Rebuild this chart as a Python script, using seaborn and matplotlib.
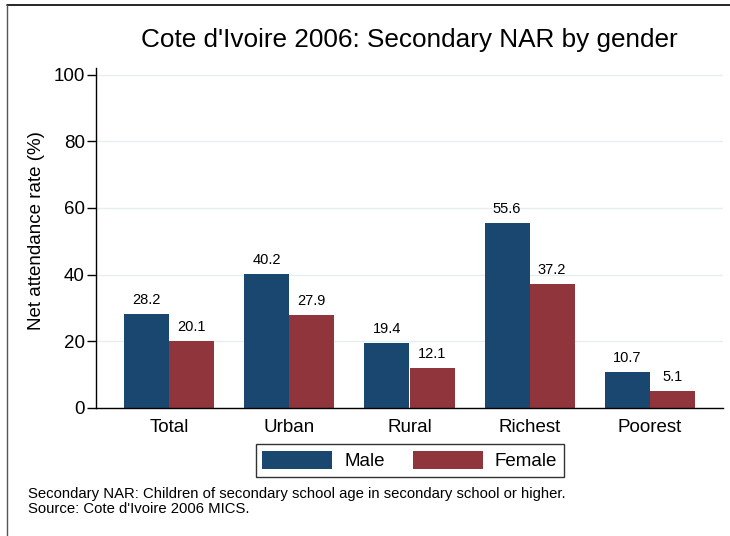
import matplotlib
matplotlib.use("Agg")
import matplotlib.pyplot as plt
from matplotlib.lines import Line2D
import seaborn as sns
import pandas as pd

categories = ["Total", "Urban", "Rural", "Richest", "Poorest"]
male = [28.2, 40.2, 19.4, 55.6, 10.7]
female = [20.1, 27.9, 12.1, 37.2, 5.1]
genders = ["Male", "Female"]
yticks = [0, 20, 40, 60, 80, 100]

df = pd.DataFrame({
    "category": categories * 2,
    "gender": ["Male"] * len(categories) + ["Female"] * len(categories),
    "value": male + female,
})

sns.set_theme(style="white")
plt.rcParams["font.family"] = ["Liberation Sans", "DejaVu Sans"]
plt.rcParams["text.color"] = "black"
plt.rcParams["axes.labelcolor"] = "black"
plt.rcParams["xtick.color"] = "black"
plt.rcParams["ytick.color"] = "black"

W, H = 730, 536
fig = plt.figure(figsize=(W / 100, H / 100), dpi=100)
fig.patch.set_facecolor("white")
ax = fig.add_axes([96 / W, 1 - 408 / H, (723 - 96) / W, (408 - 68) / H])

palette = {"Male": "#1a476f", "Female": "#90353b"}
sns.barplot(data=df, x="category", y="value", hue="gender", order=categories,
            hue_order=genders, palette=palette, width=0.75, saturation=1,
            ax=ax, legend=False, linewidth=0)

for cont in ax.containers:
    ax.bar_label(cont, fmt="%.1f", padding=5, fontsize=10.5, color="black")

ax.set_ylim(0, 102)
ax.set_xlim(-0.61, 4.61)
ax.set_yticks(yticks)
ax.set_yticklabels([str(t) for t in yticks])
ax.yaxis.grid(True, color="#e6eef0", linewidth=1.0)
ax.set_axisbelow(True)
for s in ["top", "right"]:
    ax.spines[s].set_visible(False)
for s in ["left", "bottom"]:
    ax.spines[s].set_color("black")
    ax.spines[s].set_linewidth(1.0)
ax.tick_params(axis="y", length=6.5, width=1, color="black", labelcolor="black",
               pad=1.5, labelsize=13.5, left=True)
ax.tick_params(axis="x", length=0, pad=8, labelsize=13.5, labelcolor="black")
ax.set_xlabel("")
ax.set_ylabel("Net attendance rate (%)", fontsize=13.5, color="black")
ax.yaxis.set_label_coords((45.5 - 96) / (723 - 96), (408 - 231) / 340)
ax.set_facecolor("white")

fig.text(409.5 / W, 1 - 40 / H, "Cote d'Ivoire 2006: Secondary NAR by gender",
         ha="center", va="center", fontsize=18.8, color="black")

handles = [plt.Rectangle((0, 0), 1, 1, facecolor=palette[g], edgecolor="none") for g in genders]
leg = fig.legend(handles, genders, loc="center", bbox_to_anchor=(409.5 / W, 1 - 460.5 / H),
                 ncol=2, fontsize=13.5, frameon=True, fancybox=False,
                 handlelength=3.73, handleheight=1.07, handletextpad=0.64,
                 columnspacing=1.5, borderpad=0.35, borderaxespad=0)
leg.get_frame().set_edgecolor("black")
leg.get_frame().set_linewidth(1.0)
for t in leg.get_texts():
    t.set_color("black")

fig.text(28 / W, 1 - 494 / H,
         "Secondary NAR: Children of secondary school age in secondary school or higher.",
         ha="left", va="center", fontsize=10.7, color="black")
fig.text(28 / W, 1 - 509 / H, "Source: Cote d'Ivoire 2006 MICS.",
         ha="left", va="center", fontsize=10.7, color="black")

fig.add_artist(Line2D([7 / W, 1.0], [1 - 5 / H, 1 - 5 / H], transform=fig.transFigure,
                      color="black", linewidth=1.2))
fig.add_artist(Line2D([7 / W, 7 / W], [0, 1 - 5 / H], transform=fig.transFigure,
                      color="#555555", linewidth=1.0))

fig.savefig("out.png", dpi=100)
